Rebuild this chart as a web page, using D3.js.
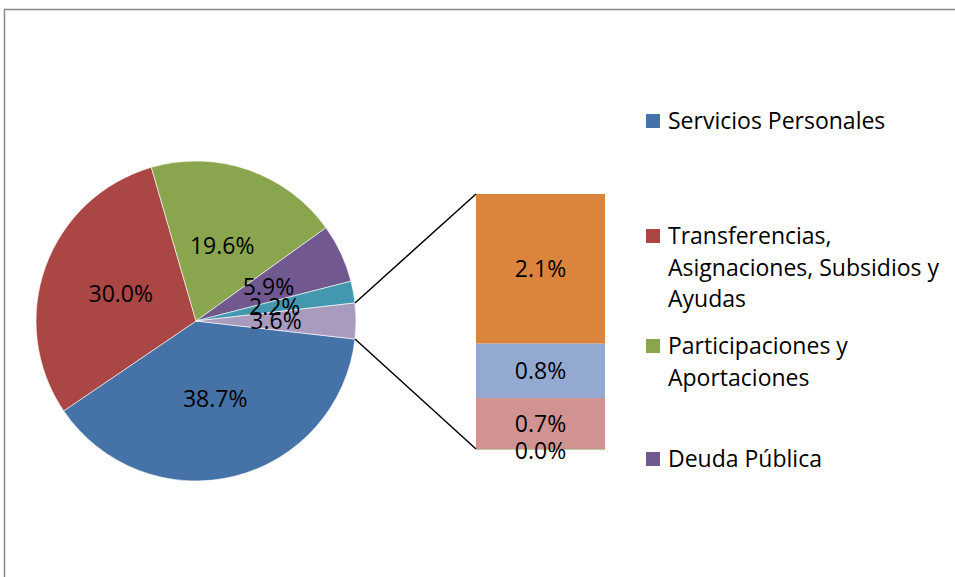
<!DOCTYPE html>
<html>
<head>
<meta charset="utf-8">
<script src="https://cdn.jsdelivr.net/npm/d3@7"></script>
<style>
  body { margin: 0; background: #fff; }
  svg { display: block; font-family: "Open Sans", sans-serif; }
</style>
</head>
<body>
<div id="chart"></div>
<script>
// pie slices, last one is the "other" slice that is split in the bar
var pieValues = [38.7, 30.0, 19.6, 5.9, 2.2, 3.6];
var pieColors = ["#4573A7", "#AA4643", "#89A54E", "#71588F", "#4198AF", "#A99BBD"];

// bar of the "other" slice, bottom to top
var barValues = [0.0, 0.72, 0.77, 2.11];
var barColors = ["#B9CD96", "#D19392", "#93A9CF", "#DB843D"];

var legendLabels = [
    ["Servicios Personales"],
    ["Transferencias,", "Asignaciones, Subsidios y", "Ayudas"],
    ["Participaciones y", "Aportaciones"],
    ["Deuda Pública"]
];
var legendY = [121, 236, 346, 459];

var width = 955;
var height = 577;
var cx = 196, cy = 321, radius = 160;
var fontSize = 23;

var svg = d3.select("#chart").append("svg")
    .attr("width", width)
    .attr("height", height);

/* chart border */
svg.append("rect")
    .attr("x", 4.5)
    .attr("y", 9.5)
    .attr("width", width + 10)
    .attr("height", height + 10)
    .attr("fill", "#fff")
    .attr("stroke", "#898989")
    .attr("stroke-width", 1.5);

/* Pie */
var otherShare = pieValues[pieValues.length - 1] / d3.sum(pieValues);
var start = Math.PI / 2 + otherShare * Math.PI;

var pie = d3.pie()
    .sort(null)
    .startAngle(start)
    .endAngle(start + 2 * Math.PI);

var arc = d3.arc().innerRadius(0).outerRadius(radius);

var arcs = pie(pieValues);
var g = svg.append("g").attr("transform", `translate(${cx}, ${cy})`);

g.selectAll("path")
    .data(arcs).enter()
    .append("path")
    .attr("d", arc)
    .attr("fill", (d, i) => pieColors[i])
    .attr("stroke", "#fff")
    .attr("stroke-width", 0.6);

g.selectAll("text")
    .data(arcs).enter()
    .append("text")
    .attr("transform", d => `translate(${arc.centroid(d)})`)
    .attr("text-anchor", "middle")
    .attr("dy", "0.36em")
    .attr("font-size", fontSize)
    .attr("fill", "#000")
    .text(d => d.data.toFixed(1) + "%");

/* Bar */
var barX = 476, barW = 129;
var y = d3.scaleLinear()
    .domain([0, d3.sum(barValues)])
    .range([449, 194]);

var stacked = [];
var acc = 0;
barValues.forEach(function(v, i) {
    stacked.push({ v: v, y0: acc, y1: acc + v, c: barColors[i] });
    acc += v;
});

svg.selectAll(".seg")
    .data(stacked).enter()
    .append("rect")
    .attr("class", "seg")
    .attr("x", barX)
    .attr("width", barW)
    .attr("y", d => y(d.y1))
    .attr("height", d => Math.max(y(d.y0) - y(d.y1), 1))
    .attr("fill", d => d.c);

svg.selectAll(".segLabel")
    .data(stacked).enter()
    .append("text")
    .attr("class", "segLabel")
    .attr("x", barX + barW / 2)
    .attr("y", d => d.v > 0 ? (y(d.y0) + y(d.y1)) / 2 : y(d.y0) + 2)
    .attr("dy", "0.36em")
    .attr("text-anchor", "middle")
    .attr("font-size", fontSize)
    .text(d => d.v.toFixed(1) + "%");

/* connector lines */
var other = arcs[arcs.length - 1];
var p1 = [cx + radius * Math.sin(other.startAngle), cy - radius * Math.cos(other.startAngle)];
var p2 = [cx + radius * Math.sin(other.endAngle), cy - radius * Math.cos(other.endAngle)];
// startAngle of the last slice is the upper edge
svg.append("line")
    .attr("x1", p1[0]).attr("y1", p1[1])
    .attr("x2", barX).attr("y2", y(d3.sum(barValues)))
    .attr("stroke", "#000").attr("stroke-width", 1.5);
svg.append("line")
    .attr("x1", p2[0]).attr("y1", p2[1])
    .attr("x2", barX).attr("y2", y(0))
    .attr("stroke", "#000").attr("stroke-width", 1.5);

/* Legend */
var legend = svg.selectAll(".legend")
    .data(legendLabels).enter()
    .append("g")
    .attr("class", "legend")
    .attr("transform", (d, i) => `translate(646, ${legendY[i]})`);

legend.append("rect")
    .attr("x", 0)
    .attr("y", -7)
    .attr("width", 14)
    .attr("height", 14)
    .attr("fill", (d, i) => pieColors[i]);

legend.append("text")
    .attr("font-size", fontSize)
    .selectAll("tspan")
    .data(d => d).enter()
    .append("tspan")
    .attr("x", 22)
    .attr("y", (d, i) => i * 31.5)
    .attr("dy", "0.36em")
    .text(d => d);
</script>
</body>
</html>
